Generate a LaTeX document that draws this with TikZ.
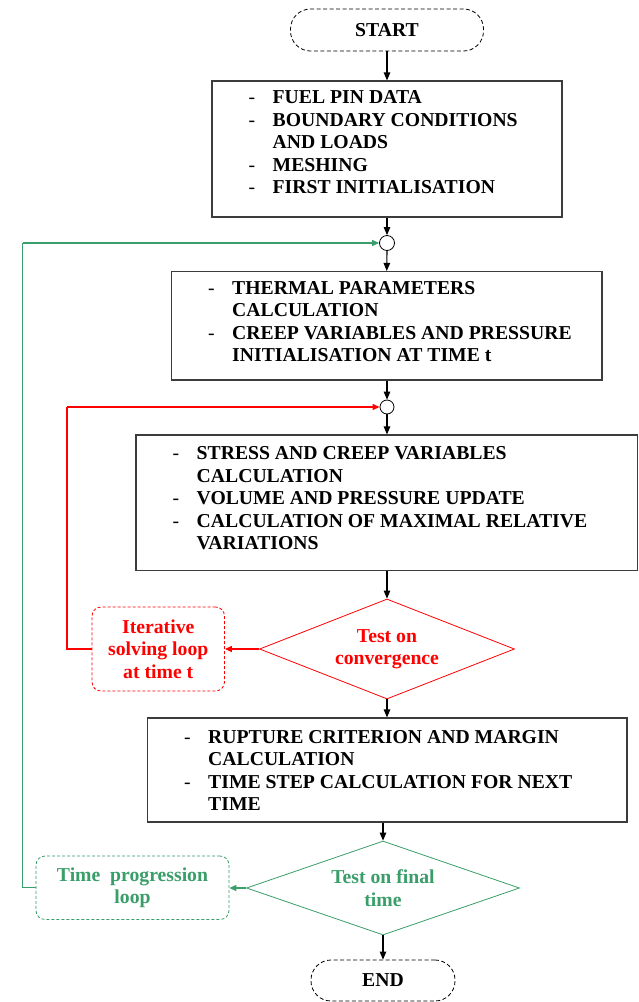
\documentclass[tikz,border=0pt]{standalone}
\usepackage{fontspec}
\setmainfont{Liberation Serif}
\usetikzlibrary{arrows.meta,shapes.geometric}
\definecolor{lred}{RGB}{255,0,0}
\definecolor{lgreen}{RGB}{58,158,106}
\definecolor{boxgray}{RGB}{60,60,60}
\newcommand{\flfont}{\fontsize{19.7}{22.5}\selectfont\bfseries}
\newcommand{\itm}{\makebox[24pt][l]{\mdseries -}}
\newcommand{\ind}{\hspace*{24pt}}
\begin{document}
\begin{tikzpicture}[x=1pt,y=-1pt,
  procbox/.style={draw=boxgray,line width=1.1pt,inner sep=0pt},
  listtext/.style={anchor=base west,inner sep=0pt,font=\flfont},
  termbox/.style={draw=black,line width=0.8pt,dash pattern=on 4pt off 2.5pt,rounded corners=20pt,font=\flfont,inner sep=0pt},
  joint/.style={circle,draw=black,line width=0.8pt,inner sep=0pt},
  decision/.style={diamond,line width=0.8pt,inner sep=0pt,font=\flfont,align=center},
  loopbox/.style={line width=0.8pt,dash pattern=on 3pt off 2pt,rounded corners=9pt,inner sep=0pt,font=\flfont,align=center},
  arr/.style={-{Triangle[length=8pt,width=6.5pt]},line width=1.1pt,draw=black},
  redarr/.style={-{Triangle[length=7pt,width=6pt]},line width=1.3pt,draw=lred},
  greenarr/.style={-{Triangle[length=7pt,width=6pt]},line width=1.3pt,draw=lgreen}]
\fill[white] (0,0) rectangle (639,1002);
\path[use as bounding box] (0,0) rectangle (639,1002);

% terminals
\node[termbox,minimum width=193pt,minimum height=42pt] (start) at (387,30) {START};
\node[termbox,minimum width=144pt,minimum height=41pt] (end) at (383,980.5) {END};

% process boxes
\node[procbox,minimum width=350pt,minimum height=136pt] (b1) at (387,149) {};
\node[listtext] (b1t) at (248.5,103.5) {\begin{tabular}[t]{@{}l@{}}
\itm FUEL PIN DATA\\
\itm BOUNDARY CONDITIONS\\
\ind AND LOADS\\
\itm MESHING\\
\itm FIRST INITIALISATION
\end{tabular}};

\node[procbox,minimum width=430.5pt,minimum height=108.5pt] (b2) at (386.75,325.75) {};
\node[listtext] (b2t) at (208,294.3) {\begin{tabular}[t]{@{}l@{}}
\itm THERMAL PARAMETERS\\
\ind CALCULATION\\
\itm CREEP VARIABLES AND PRESSURE\\
\ind INITIALISATION AT TIME t
\end{tabular}};

\node[procbox,minimum width=501.5pt,minimum height=135.5pt] (b3) at (386.75,502.75) {};
\node[listtext] (b3t) at (172.5,459.5) {\begin{tabular}[t]{@{}l@{}}
\itm STRESS AND CREEP VARIABLES\\
\ind CALCULATION\\
\itm VOLUME AND PRESSURE UPDATE\\
\itm CALCULATION OF MAXIMAL RELATIVE\\
\ind VARIATIONS
\end{tabular}};

\node[procbox,minimum width=479.5pt,minimum height=104pt] (b4) at (387.25,770) {};
\node[listtext] (b4t) at (184,743) {\begin{tabular}[t]{@{}l@{}}
\itm RUPTURE CRITERION AND MARGIN\\
\ind CALCULATION\\
\itm TIME STEP CALCULATION FOR NEXT\\
\ind TIME
\end{tabular}};

% junctions
\node[joint,minimum size=15pt] (c1) at (387,243) {};
\node[joint,minimum size=14pt] (c2) at (387,407) {};

% decisions
\node[decision,draw=lred,text=lred,aspect=2.55,minimum width=255pt,minimum height=100pt] (d1) at (387,649) {Test on\\convergence};
\node[decision,draw=lgreen,text=lgreen,aspect=2.9,minimum width=273pt,minimum height=94pt] (d2) at (383,888) {Test on final\\time};

% loop labels
\node[loopbox,draw=lred,text=lred,minimum width=132.5pt,minimum height=84pt] (rlab) at (158.25,649) {Iterative\\solving loop\\at time t};
\node[loopbox,draw=lgreen,text=lgreen,minimum width=193pt,minimum height=63.5pt] (glab) at (132.5,887.75) {Time~ progression\\loop};

\coordinate (rcorner) at (67,407);
\coordinate (gcorner) at (22.5,243);

% main flow
\draw[arr] (start.south) -- (b1.north);
\draw[arr] (b1.south) -- (c1.north);
\draw[arr] (c1.south) -- (b2.north);
\draw[arr] (b2.south -| c2.north) -- (c2.north);
\draw[arr] (c2.south) -- (c2.south |- b3.north);
\draw[arr] (b3.south -| d1.north) -- (d1.north);
\draw[arr] (d1.south) -- (d1.south |- b4.north);
\draw[arr] (b4.south -| d2.north) -- (d2.north);
\draw[arr] (d2.south) -- (end.north);

% loops
\draw[redarr] (d1.west) -- (rlab.east);
\draw[lred,line width=1.3pt] (rlab.west) -| (rcorner);
\draw[redarr] (rcorner) -- (c2.west);
\draw[greenarr] (d2.west) -- (d2.west -| glab.east);
\draw[lgreen,line width=1.3pt] (glab.west) -| (gcorner);
\draw[greenarr] (gcorner) -- (c1.west);
\end{tikzpicture}
\end{document}
